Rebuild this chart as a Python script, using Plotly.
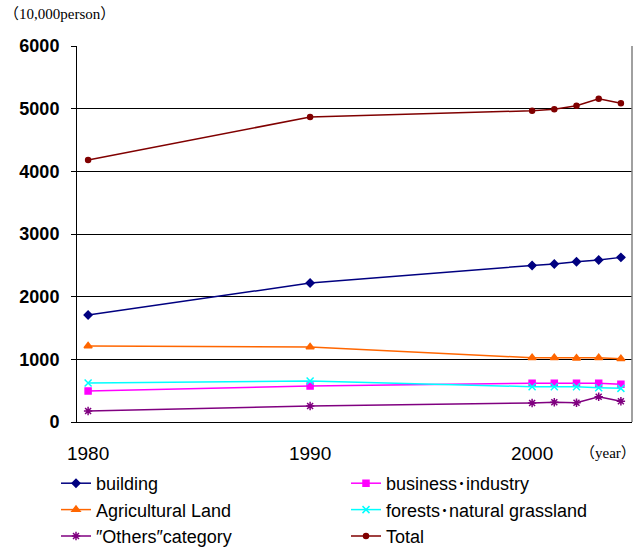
import plotly.graph_objects as go

# ── Data ──────────────────────────────────────────────────────────────────────
YEARS = [1980, 1990, 2000, 2001, 2002, 2003, 2004]

building = [1707, 2217, 2498, 2520, 2557, 2584, 2627]
business = [494, 574, 617, 617, 617, 617, 601]
agricultural = [1212, 1196, 1026, 1026, 1016, 1026, 1010]
forests = [622, 654, 563, 563, 563, 547, 537]
others = [175, 255, 303, 314, 308, 404, 330]
total = [4180, 4867, 4967, 4990, 5047, 5159, 5085]

X_TICKS = [1980, 1990, 2000]
Y_TICKS = [0, 1000, 2000, 3000, 4000, 5000, 6000]

# (name, values, colour, marker, size, legend column)
SERIES = [
    ("building", building, "#000080", "diamond", 6, "legend"),
    ("Agricultural Land", agricultural, "#FF6600", "triangle-up", 7, "legend"),
    ("″Others″category", others, "#800080", "asterisk-open", 7, "legend"),
    ("business･industry", business, "#FF00FF", "square", 6, "legend2"),
    ("forests･natural grassland", forests, "#00FFFF", "x-thin-open", 7, "legend2"),
    ("Total", total, "#800000", "circle", 5, "legend2"),
]

# plot area in pixels
L, R, T, B = 77, 632, 46, 422


def px_x(px):
    return (px - L) / (R - L)


def px_y(py):
    return (B - py) / (B - T)


fig = go.Figure()
for name, vals, color, symbol, size, leg in SERIES:
    fig.add_trace(go.Scatter(
        x=YEARS, y=vals,
        name=name,
        legend=leg,
        mode="lines+markers",
        line=dict(color=color, width=1.5),
        marker=dict(symbol=symbol, size=size, color=color,
                    line=dict(color=color, width=1.5)),
    ))

legend_style = dict(
    orientation="v",
    xref="container", yref="container",
    y=1 - 465 / 550,
    xanchor="left", yanchor="top",
    font=dict(size=18, family="Liberation Sans, Noto Sans CJK JP, sans-serif"),
    bgcolor="rgba(0,0,0,0)",
    itemwidth=30,
    tracegroupgap=0,
)

fig.update_layout(
    width=636, height=550,
    paper_bgcolor="white", plot_bgcolor="white",
    margin=dict(l=L, r=636 - R, t=T, b=550 - B, autoexpand=False),
    font=dict(family="Liberation Sans, Arial, sans-serif", color="black"),
    showlegend=True,
    legend=dict(x=56 / 636, **legend_style),
    legend2=dict(x=346 / 636, **legend_style),
    xaxis=dict(
        range=[1979.5, 2004.5],
        tickvals=X_TICKS,
        showgrid=False,
        zeroline=False,
        showline=True, linecolor="black", linewidth=1,
        ticks="",
        ticklabelstandoff=14,
        tickfont=dict(size=19),
    ),
    yaxis=dict(
        range=[0, 6000],
        tickvals=Y_TICKS,
        showgrid=True, gridcolor="black", gridwidth=1,
        zeroline=False,
        showline=True, linecolor="black", linewidth=1,
        ticks="outside", ticklen=5, tickcolor="black",
        tickfont=dict(size=18, family="Liberation Sans, Arial, sans-serif", weight="bold"),
        ticklabelstandoff=8,
    ),
)

# right border of the plot area
fig.add_shape(type="line", xref="paper", yref="paper", x0=1, x1=1, y0=0, y1=1,
              line=dict(color="#808080", width=1.5))

fig.add_annotation(text="（10,000person）", xref="paper", yref="paper",
                   x=px_x(2), y=px_y(14), xanchor="left", yanchor="middle",
                   showarrow=False,
                   font=dict(family="Liberation Serif, Noto Sans CJK JP, serif", size=15, color="black"))
fig.add_annotation(text="（year）", xref="paper", yref="paper",
                   x=px_x(638), y=px_y(453), xanchor="right", yanchor="middle",
                   showarrow=False,
                   font=dict(family="Liberation Serif, Noto Sans CJK JP, serif", size=15, color="black"))

fig.write_html("out.html", config={"displayModeBar": False},
               post_script="document.body.style.margin='0';document.body.style.overflow='hidden';")
